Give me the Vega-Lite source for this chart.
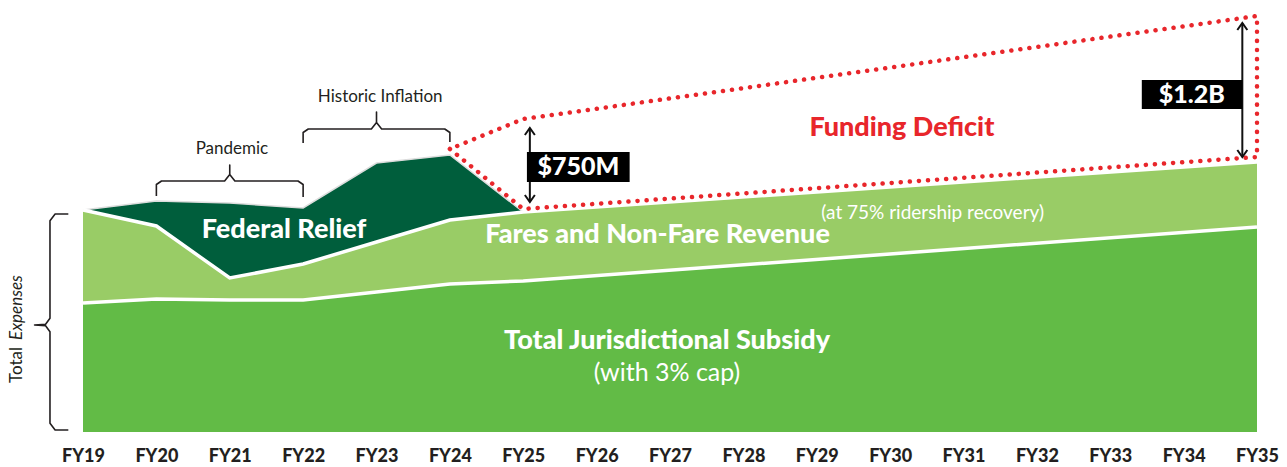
{
  "$schema": "https://vega.github.io/schema/vega-lite/v6.json",
  "width": 1174,
  "height": 422,
  "autosize": {"type": "none"},
  "padding": {"left": 83, "top": 10, "right": 30, "bottom": 35},
  "background": "white",
  "config": {"view": {"stroke": null}, "font": "Lato"},
  "datasets": {
    "tops": [
      {"year": 19, "series": "federal", "value": 1776},
      {"year": 20, "series": "federal", "value": 1848},
      {"year": 21, "series": "federal", "value": 1832},
      {"year": 22, "series": "federal", "value": 1792},
      {"year": 23, "series": "federal", "value": 2152},
      {"year": 24, "series": "federal", "value": 2216},
      {"year": 25, "series": "federal", "value": 1760},
      {"year": 19, "series": "fares", "value": 1776},
      {"year": 20, "series": "fares", "value": 1648},
      {"year": 21, "series": "fares", "value": 1232},
      {"year": 22, "series": "fares", "value": 1344},
      {"year": 23, "series": "fares", "value": 1520},
      {"year": 24, "series": "fares", "value": 1696},
      {"year": 25, "series": "fares", "value": 1760},
      {"year": 35, "series": "fares", "value": 2160},
      {"year": 19, "series": "subsidy", "value": 1032},
      {"year": 20, "series": "subsidy", "value": 1064},
      {"year": 21, "series": "subsidy", "value": 1056},
      {"year": 22, "series": "subsidy", "value": 1056},
      {"year": 23, "series": "subsidy", "value": 1120},
      {"year": 24, "series": "subsidy", "value": 1184},
      {"year": 25, "series": "subsidy", "value": 1208},
      {"year": 35, "series": "subsidy", "value": 1640}
    ],
    "deficit": [
      {"year": 24, "value": 2264, "order": 1},
      {"year": 25, "value": 1784, "order": 2},
      {"year": 35, "value": 2200, "order": 3},
      {"year": 35, "value": 3328, "order": 4},
      {"year": 25, "value": 2504, "order": 5},
      {"year": 24, "value": 2264, "order": 6}
    ],
    "brackets": [
      {"id": "pandemic", "year": 20, "value": 1888, "order": 1},
      {"id": "pandemic", "year": 20, "value": 1980, "order": 2},
      {"id": "pandemic", "year": 20.07, "value": 2008, "order": 3},
      {"id": "pandemic", "year": 20.93, "value": 2008, "order": 4},
      {"id": "pandemic", "year": 21, "value": 2060, "order": 5},
      {"id": "pandemic", "year": 21, "value": 2136, "order": 6},
      {"id": "pandemic", "year": 21, "value": 2060, "order": 7},
      {"id": "pandemic", "year": 21.07, "value": 2008, "order": 8},
      {"id": "pandemic", "year": 21.93, "value": 2008, "order": 9},
      {"id": "pandemic", "year": 22, "value": 1980, "order": 10},
      {"id": "pandemic", "year": 22, "value": 1880, "order": 11},
      {"id": "inflation", "year": 22, "value": 2312, "order": 1},
      {"id": "inflation", "year": 22, "value": 2396, "order": 2},
      {"id": "inflation", "year": 22.07, "value": 2424, "order": 3},
      {"id": "inflation", "year": 22.93, "value": 2424, "order": 4},
      {"id": "inflation", "year": 23, "value": 2476, "order": 5},
      {"id": "inflation", "year": 23, "value": 2560, "order": 6},
      {"id": "inflation", "year": 23, "value": 2476, "order": 7},
      {"id": "inflation", "year": 23.07, "value": 2424, "order": 8},
      {"id": "inflation", "year": 23.93, "value": 2424, "order": 9},
      {"id": "inflation", "year": 24, "value": 2396, "order": 10},
      {"id": "inflation", "year": 24, "value": 2320, "order": 11},
      {"id": "expenses", "year": 18.8, "value": 1744, "order": 1},
      {"id": "expenses", "year": 18.62, "value": 1744, "order": 2},
      {"id": "expenses", "year": 18.55, "value": 1690, "order": 3},
      {"id": "expenses", "year": 18.55, "value": 910, "order": 4},
      {"id": "expenses", "year": 18.49, "value": 862, "order": 5},
      {"id": "expenses", "year": 18.34, "value": 856, "order": 6},
      {"id": "expenses", "year": 18.49, "value": 850, "order": 7},
      {"id": "expenses", "year": 18.55, "value": 802, "order": 8},
      {"id": "expenses", "year": 18.55, "value": 70, "order": 9},
      {"id": "expenses", "year": 18.62, "value": 16, "order": 10},
      {"id": "expenses", "year": 18.8, "value": 16, "order": 11}
    ],
    "arrows": [
      {"year": 25.09, "value": 2432, "value2": 1840},
      {"year": 34.8, "value": 3272, "value2": 2200}
    ],
    "boxes": [
      {"year": 25.05, "year2": 26.45, "value": 2240, "value2": 2000, "text": "$750M", "cx": 25.75, "cy": 2120},
      {"year": 33.43, "year2": 34.8, "value": 2816, "value2": 2584, "text": "$1.2B", "cx": 34.11, "cy": 2700}
    ]
  },
  "encoding": {
    "x": {
      "field": "year",
      "type": "quantitative",
      "title": null,
      "scale": {"domain": [19, 35], "nice": false, "zero": false},
      "axis": {
        "values": [19, 20, 21, 22, 23, 24, 25, 26, 27, 28, 29, 30, 31, 32, 33, 34, 35],
        "labelExpr": "'FY' + datum.value",
        "title": null,
        "domain": false,
        "ticks": false,
        "grid": false,
        "labelFont": "Lato",
        "labelFontSize": 18,
        "labelFontWeight": 900,
        "labelColor": "#231f20",
        "labelPadding": 15,
        "labelFlush": false,
        "labelOverlap": false
      }
    },
    "y": {
      "field": "value",
      "type": "quantitative",
      "title": null,
      "scale": {"domain": [0, 3376], "nice": false, "zero": true},
      "axis": null
    }
  },
  "layer": [
    {
      "data": {"name": "tops"},
      "transform": [{"filter": "datum.series == 'federal'"}],
      "mark": {"type": "area", "color": "#005e3c"},
      "encoding": {}
    },
    {
      "data": {"name": "tops"},
      "transform": [{"filter": "datum.series == 'fares'"}],
      "mark": {"type": "area", "color": "#99cc66"},
      "encoding": {}
    },
    {
      "data": {"name": "tops"},
      "transform": [{"filter": "datum.series == 'subsidy'"}],
      "mark": {"type": "area", "color": "#62bb46"},
      "encoding": {}
    },
    {
      "data": {"name": "tops"},
      "transform": [{"filter": "datum.series == 'federal'"}],
      "mark": {"type": "line", "color": "#dddddd", "strokeWidth": 1.5},
      "encoding": {}
    },
    {
      "data": {"name": "tops"},
      "transform": [{"filter": "datum.series != 'federal'"}],
      "mark": {"type": "line", "color": "white", "strokeWidth": 3.5},
      "encoding": {"detail": {"field": "series"}}
    },
    {
      "data": {"name": "deficit"},
      "mark": {"type": "line", "color": "#e8262b", "strokeWidth": 4.5, "strokeDash": [0.1, 9], "strokeCap": "round"},
      "encoding": {"order": {"field": "order", "type": "quantitative"}}
    },
    {
      "data": {"name": "brackets"},
      "mark": {"type": "line", "color": "#231f20", "strokeWidth": 1.6, "strokeJoin": "round"},
      "encoding": {
        "detail": {"field": "id"},
        "order": {"field": "order", "type": "quantitative"}
      }
    },
    {
      "data": {"name": "arrows"},
      "mark": {"type": "rule", "color": "#111111", "strokeWidth": 2},
      "encoding": {"y2": {"field": "value2"}}
    },
    {
      "data": {"name": "arrows"},
      "mark": {"type": "point", "shape": "M -1 1.4 L 0 0 L 1 1.4", "filled": false, "color": "#111111", "strokeWidth": 2, "size": 100, "opacity": 1},
      "encoding": {}
    },
    {
      "data": {"name": "arrows"},
      "mark": {"type": "point", "shape": "M -1 -1.4 L 0 0 L 1 -1.4", "filled": false, "color": "#111111", "strokeWidth": 2, "size": 100, "opacity": 1},
      "encoding": {"y": {"field": "value2", "type": "quantitative"}}
    },
    {
      "data": {"name": "boxes"},
      "mark": {"type": "rect", "color": "black"},
      "encoding": {"x2": {"field": "year2"}, "y2": {"field": "value2"}}
    },
    {
      "data": {"name": "boxes"},
      "mark": {"type": "text", "color": "white", "font": "Lato", "fontWeight": 900, "fontSize": 25, "baseline": "middle", "align": "center"},
      "encoding": {
        "x": {"field": "cx", "type": "quantitative"},
        "y": {"field": "cy", "type": "quantitative"},
        "text": {"field": "text"}
      }
    },
    {
      "data": {"values": [
        {"year": 21.74, "value": 1616, "text": "Federal Relief"},
        {"year": 26.83, "value": 1576, "text": "Fares and Non-Fare Revenue"},
        {"year": 26.96, "value": 728, "text": "Total Jurisdictional Subsidy"}
      ]},
      "mark": {"type": "text", "color": "white", "font": "Lato", "fontWeight": 900, "fontSize": 27, "baseline": "middle", "align": "center"},
      "encoding": {"text": {"field": "text"}}
    },
    {
      "data": {"values": [
        {"year": 26.96, "value": 472, "text": "(with 3% cap)"}
      ]},
      "mark": {"type": "text", "color": "white", "font": "Lato", "fontSize": 25, "baseline": "middle", "align": "center"},
      "encoding": {"text": {"field": "text"}}
    },
    {
      "data": {"values": [
        {"year": 30.58, "value": 1752, "text": "(at 75% ridership recovery)"}
      ]},
      "mark": {"type": "text", "color": "white", "font": "Lato", "fontSize": 19, "baseline": "middle", "align": "center"},
      "encoding": {"text": {"field": "text"}}
    },
    {
      "data": {"values": [
        {"year": 30.16, "value": 2432, "text": "Funding Deficit"}
      ]},
      "mark": {"type": "text", "color": "#e8262b", "font": "Lato", "fontWeight": 900, "fontSize": 27, "baseline": "middle", "align": "center"},
      "encoding": {"text": {"field": "text"}}
    },
    {
      "data": {"values": [
        {"year": 21.03, "value": 2264, "text": "Pandemic"},
        {"year": 23.05, "value": 2680, "text": "Historic Inflation"}
      ]},
      "mark": {"type": "text", "color": "#231f20", "font": "Lato", "fontSize": 17, "baseline": "middle", "align": "center"},
      "encoding": {"text": {"field": "text"}}
    },
    {
      "data": {"values": [
        {"year": 18.1, "value": 392, "text": "Total"}
      ]},
      "mark": {"type": "text", "color": "#231f20", "font": "Lato", "fontSize": 17, "angle": 270, "baseline": "middle", "align": "left"},
      "encoding": {"text": {"field": "text"}}
    },
    {
      "data": {"values": [
        {"year": 18.1, "value": 736, "text": "Expenses"}
      ]},
      "mark": {"type": "text", "color": "#231f20", "font": "Lato", "fontSize": 17, "fontStyle": "italic", "angle": 270, "baseline": "middle", "align": "left"},
      "encoding": {"text": {"field": "text"}}
    }
  ]
}
